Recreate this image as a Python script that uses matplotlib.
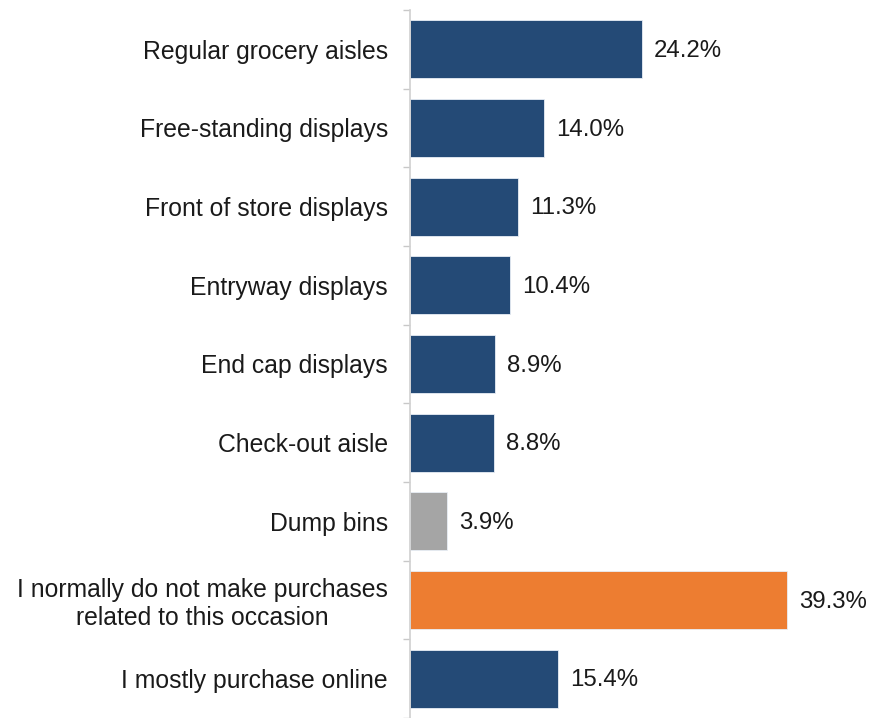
import matplotlib
matplotlib.use("Agg")
import matplotlib.pyplot as plt
import numpy as np

categories = [
    "Regular grocery aisles",
    "Free-standing displays",
    "Front of store displays",
    "Entryway displays",
    "End cap displays",
    "Check-out aisle",
    "Dump bins",
    "I normally do not make purchases\nrelated to this occasion",
    "I mostly purchase online",
]
values = [24.2, 14.0, 11.3, 10.4, 8.9, 8.8, 3.9, 39.3, 15.4]
colors = ["#244A76", "#244A76", "#244A76", "#244A76", "#244A76",
          "#244A76", "#A5A5A5", "#ED7D31", "#244A76"]

plt.rcParams["font.family"] = ["Liberation Sans", "DejaVu Sans"]

fig = plt.figure(figsize=(8.71, 7.18), dpi=100)
ax = fig.add_axes([410 / 871, 0.0, 451 / 871, 1 - 10 / 718])

y = np.arange(len(categories))
ax.barh(y, values, height=0.74, color=colors, edgecolor="#E8EEF5", linewidth=0.6)

for yi, v in zip(y, values):
    ax.text(v + 1.25, yi + 0.02, f"{v:.1f}%", va="center", ha="left",
            fontsize=17.3, color="#1A1A1A")

ax.set_xlim(0, 47)
ax.set_ylim(len(categories) - 0.5, -0.5)

ax.set_yticks(y)
ax.set_yticklabels(categories, fontsize=17.8, color="#1A1A1A", multialignment="center")
ax.tick_params(axis="y", which="major", length=0, pad=15.8)
ax.set_yticks(np.arange(-0.5, len(categories), 1.0), minor=True)
ax.tick_params(axis="y", which="minor", length=5, width=1, color="#C8C8C8")
ax.set_xticks([])

for side in ["top", "right", "bottom"]:
    ax.spines[side].set_visible(False)
ax.spines["left"].set_color("#D0D0D0")
ax.spines["left"].set_linewidth(1.2)

fig.savefig("out.png", dpi=100)
